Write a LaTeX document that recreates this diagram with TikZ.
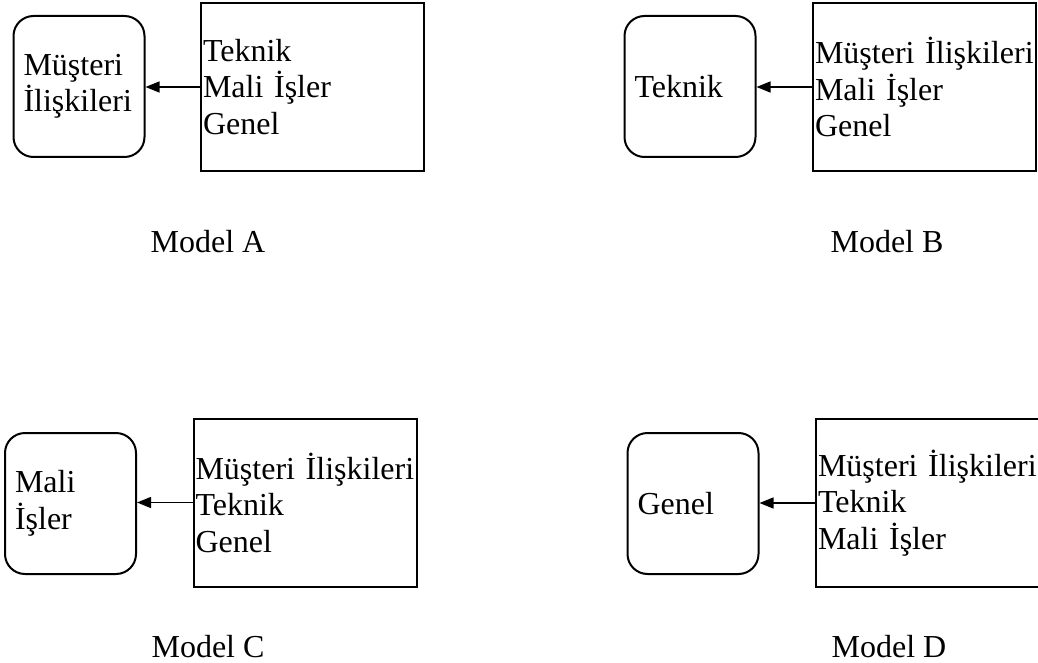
\documentclass[tikz,border=0pt]{standalone}
\usepackage{fontspec}
\setmainfont{Liberation Serif}
\usetikzlibrary{arrows.meta}

\begin{document}
\begin{tikzpicture} [x=1pt, y=-1pt,
		kutu/.style={draw, line width=2pt, rounded corners=20pt, minimum width=131pt, minimum height=141pt, text width=111pt, inner xsep=10pt, align=left},
		liste/.style={draw, line width=2pt, minimum height=168pt, text width=219pt, inner xsep=2pt, align=left},
		etiket/.style={inner sep=0pt},
		ok/.style={line width=1.4pt, -{Triangle[length=14pt, width=11pt]}},
		font=\fontsize{32}{36.5}\selectfont]
		\useasboundingbox (0,0) rectangle (1038,663);
		
		% Model A
		\node[kutu] (kutuA) at (79,86.5) {Müşteri\\İlişkileri};
		\node[liste] (listeA) at (312.5,87) {Teknik\\Mali İşler\\Genel};
		\draw[ok] (listeA.west) -- (listeA.west -| kutuA.east);
		\node[etiket] (modelA) at (208,242) {Model A};
		
		% Model B
		\node[kutu] (kutuB) at (690,86.5) {Teknik};
		\node[liste] (listeB) at (924.5,87) {Müşteri İlişkileri\\Mali İşler\\Genel};
		\draw[ok] (listeB.west) -- (listeB.west -| kutuB.east);
		\node[etiket] (modelB) at (887,242) {Model B};
		
		% Model C
		\node[kutu] (kutuC) at (70.5,503.5) {Mali\\İşler};
		\node[liste] (listeC) at (305,502.5) {Müşteri İlişkileri\\Teknik\\Genel};
		\draw[ok] (listeC.west) -- (listeC.west -| kutuC.east);
		\node[etiket] (modelC) at (208,647) {Model C};
		
		% Model D
		\node[etiket] (modelD) at (889,647) {Model D};
		\node[kutu] (kutuD) at (693,503.5) {Genel};
		\node[liste] (listeD) at (927.5,503) {Müşteri İlişkileri\\Teknik\\Mali İşler};
		\draw[ok] (listeD.west) -- (listeD.west -| kutuD.east);
	\end{tikzpicture}
\end{document}
